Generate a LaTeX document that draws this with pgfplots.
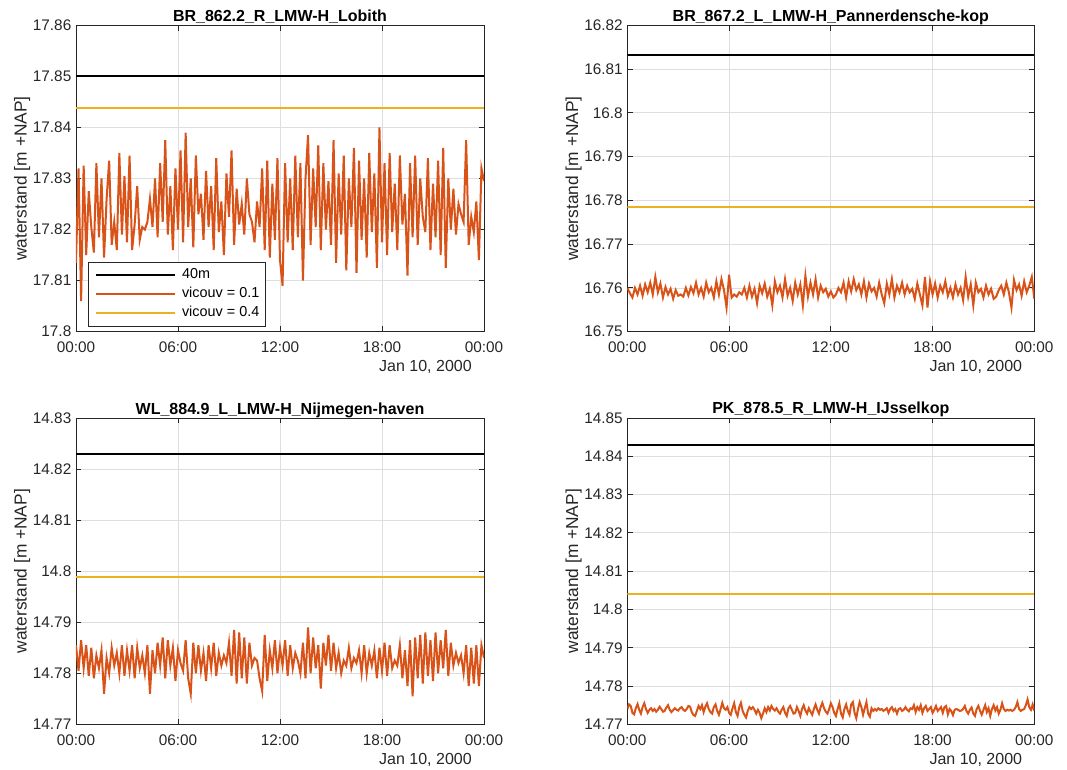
\documentclass[border=0pt]{standalone}
\usepackage{pgfplots}
\pgfplotsset{compat=1.18}
\usepackage{fontspec}
\setmainfont{Liberation Sans}
\definecolor{axgray}{HTML}{262626}
\definecolor{gridgray}{HTML}{DEDEDE}
\definecolor{morange}{HTML}{D95319}
\definecolor{myellow}{HTML}{EDB120}
\pgfplotsset{
  mstyle/.style={
    scale only axis, width=306pt, height=229.75pt,
    xmin=0, xmax=24, xtick={0,6,12,18,24},
    xticklabels={00:00,06:00,12:00,18:00,00:00},
    grid=major, major grid style={color=gridgray, line width=0.6pt},
    axis line style={color=axgray, line width=0.7pt},
    tick style={color=axgray, line width=0.7pt}, major tick length=4pt,
    tick label style={font=\fontsize{11.5}{13}\selectfont, color=axgray},
    x tick label style={yshift=-4pt},
    /pgf/number format/assume math mode=true,
    y tick label style={/pgf/number format/.cd, fixed, precision=2},
    scaled y ticks=false,
    ylabel={waterstand [m +NAP]},
    ylabel style={font=\fontsize{13}{15}\selectfont, color=axgray,
      at={(axis description cs:-0.132,0.5)}, anchor=center},
    every axis title shift=0pt,
    title style={font=\bfseries\fontsize{12}{14}\selectfont,
      at={(axis description cs:0.5,1)}, anchor=base, yshift=3pt},
    anchor=south west,
  },
}
\newcommand{\datelabel}[1]{\node[anchor=base east, font=\fontsize{12}{14}\selectfont, color=axgray, inner sep=0pt] at ([xshift=-9pt, yshift=-30pt]#1.south east) {Jan 10, 2000};}
\begin{document}
\begin{tikzpicture}
\useasboundingbox (0,0) rectangle (800.25pt,576.75pt);
% ---------------- top left
\begin{axis}[mstyle, name=a1, at={(57pt,328pt)},
  ymin=17.8, ymax=17.86, ytick={17.80,17.81,17.82,17.83,17.84,17.85,17.86},
  title={BR\_862.2\_R\_LMW-H\_Lobith},
  legend style={at={(0.03,0.016)}, anchor=south west, draw=axgray, fill=white,
    line width=0.7pt, font=\fontsize{10.8}{13}\selectfont, inner xsep=5pt, inner ysep=2.5pt,
    nodes={inner sep=0pt, text height=9.5pt, text depth=4.75pt},
    /tikz/every odd column/.append style={column sep=4.5pt}},
  legend cell align=left,
  legend image code/.code={\draw[#1] (0pt,0pt) -- (59pt,0pt);},
]
\addplot[color=black, line width=1.5pt] coordinates {(0,17.8500) (24,17.8500)};
\addlegendentry{40m}
\addplot[color=morange, line width=1.5pt] table[row sep=\\, header=false, x expr=\coordindex*0.15, y index=0] {
17.8135\\ 17.8320\\ 17.8060\\ 17.8325\\ 17.8150\\ 17.8275\\ 17.8205\\ 17.8155\\ 17.8330\\ 17.8185\\
17.8300\\ 17.8145\\ 17.8260\\ 17.8335\\ 17.8170\\ 17.8215\\ 17.8160\\ 17.8350\\ 17.8190\\ 17.8305\\
17.8175\\ 17.8345\\ 17.8160\\ 17.8210\\ 17.8285\\ 17.8180\\ 17.8205\\ 17.8200\\ 17.8215\\ 17.8260\\
17.8205\\ 17.8300\\ 17.8185\\ 17.8330\\ 17.8215\\ 17.8375\\ 17.8190\\ 17.8285\\ 17.8160\\ 17.8320\\
17.8200\\ 17.8355\\ 17.8175\\ 17.8390\\ 17.8205\\ 17.8300\\ 17.8165\\ 17.8345\\ 17.8230\\ 17.8270\\
17.8180\\ 17.8315\\ 17.8205\\ 17.8285\\ 17.8160\\ 17.8340\\ 17.8195\\ 17.8255\\ 17.8150\\ 17.8310\\
17.8225\\ 17.8355\\ 17.8170\\ 17.8280\\ 17.8210\\ 17.8250\\ 17.8190\\ 17.8300\\ 17.8230\\ 17.8215\\
17.8175\\ 17.8255\\ 17.8205\\ 17.8320\\ 17.8160\\ 17.8335\\ 17.8145\\ 17.8290\\ 17.8180\\ 17.8340\\
17.8140\\ 17.8090\\ 17.8330\\ 17.8175\\ 17.8300\\ 17.8160\\ 17.8345\\ 17.8185\\ 17.8330\\ 17.8100\\
17.8300\\ 17.8385\\ 17.8170\\ 17.8320\\ 17.8205\\ 17.8365\\ 17.8160\\ 17.8330\\ 17.8200\\ 17.8295\\
17.8170\\ 17.8375\\ 17.8135\\ 17.8310\\ 17.8190\\ 17.8345\\ 17.8120\\ 17.8300\\ 17.8205\\ 17.8360\\
17.8115\\ 17.8335\\ 17.8180\\ 17.8300\\ 17.8145\\ 17.8350\\ 17.8195\\ 17.8310\\ 17.8125\\ 17.8400\\
17.8175\\ 17.8330\\ 17.8150\\ 17.8350\\ 17.8195\\ 17.8290\\ 17.8160\\ 17.8345\\ 17.8210\\ 17.8270\\
17.8110\\ 17.8330\\ 17.8185\\ 17.8345\\ 17.8170\\ 17.8300\\ 17.8225\\ 17.8195\\ 17.8340\\ 17.8160\\
17.8290\\ 17.8185\\ 17.8335\\ 17.8150\\ 17.8360\\ 17.8125\\ 17.8300\\ 17.8200\\ 17.8280\\ 17.8190\\
17.8250\\ 17.8230\\ 17.8215\\ 17.8375\\ 17.8170\\ 17.8225\\ 17.8195\\ 17.8255\\ 17.8140\\ 17.8320\\
17.8295\\
};
\addlegendentry{vicouv = 0.1}
\addplot[color=myellow, line width=1.5pt] coordinates {(0,17.8438) (24,17.8438)};
\addlegendentry{vicouv = 0.4}
\end{axis}
\datelabel{a1}
% ---------------- top right
\begin{axis}[mstyle, name=a2, at={(470.5pt,328pt)}, width=305.25pt,
  ymin=16.75, ymax=16.82, ytick={16.75,16.76,16.77,16.78,16.79,16.80,16.81,16.82},
  title={BR\_867.2\_L\_LMW-H\_Pannerdensche-kop},
]
\addplot[color=black, line width=1.5pt] coordinates {(0,16.8133) (24,16.8133)};
\addplot[color=morange, line width=1.5pt] table[row sep=\\, header=false, x expr=\coordindex*0.15, y index=0] {
16.7600\\ 16.7588\\ 16.7578\\ 16.7600\\ 16.7585\\ 16.7605\\ 16.7582\\ 16.7608\\ 16.7590\\ 16.7612\\
16.7585\\ 16.7625\\ 16.7590\\ 16.7610\\ 16.7578\\ 16.7602\\ 16.7585\\ 16.7598\\ 16.7575\\ 16.7595\\
16.7582\\ 16.7585\\ 16.7580\\ 16.7600\\ 16.7583\\ 16.7602\\ 16.7588\\ 16.7612\\ 16.7585\\ 16.7600\\
16.7580\\ 16.7612\\ 16.7590\\ 16.7600\\ 16.7578\\ 16.7615\\ 16.7585\\ 16.7620\\ 16.7595\\ 16.7555\\
16.7630\\ 16.7578\\ 16.7585\\ 16.7580\\ 16.7590\\ 16.7585\\ 16.7600\\ 16.7578\\ 16.7605\\ 16.7580\\
16.7598\\ 16.7565\\ 16.7605\\ 16.7588\\ 16.7610\\ 16.7580\\ 16.7598\\ 16.7560\\ 16.7615\\ 16.7590\\
16.7605\\ 16.7578\\ 16.7620\\ 16.7582\\ 16.7600\\ 16.7570\\ 16.7612\\ 16.7585\\ 16.7608\\ 16.7560\\
16.7628\\ 16.7580\\ 16.7612\\ 16.7585\\ 16.7620\\ 16.7578\\ 16.7605\\ 16.7590\\ 16.7598\\ 16.7580\\
16.7592\\ 16.7578\\ 16.7585\\ 16.7600\\ 16.7590\\ 16.7612\\ 16.7578\\ 16.7615\\ 16.7592\\ 16.7620\\
16.7595\\ 16.7608\\ 16.7585\\ 16.7615\\ 16.7578\\ 16.7610\\ 16.7592\\ 16.7600\\ 16.7580\\ 16.7612\\
16.7585\\ 16.7565\\ 16.7610\\ 16.7585\\ 16.7620\\ 16.7578\\ 16.7605\\ 16.7590\\ 16.7612\\ 16.7585\\
16.7605\\ 16.7590\\ 16.7598\\ 16.7575\\ 16.7610\\ 16.7585\\ 16.7560\\ 16.7625\\ 16.7555\\ 16.7615\\
16.7585\\ 16.7610\\ 16.7578\\ 16.7605\\ 16.7590\\ 16.7615\\ 16.7582\\ 16.7600\\ 16.7578\\ 16.7608\\
16.7585\\ 16.7600\\ 16.7572\\ 16.7625\\ 16.7580\\ 16.7608\\ 16.7560\\ 16.7612\\ 16.7590\\ 16.7598\\
16.7578\\ 16.7605\\ 16.7585\\ 16.7598\\ 16.7575\\ 16.7580\\ 16.7595\\ 16.7605\\ 16.7585\\ 16.7612\\
16.7590\\ 16.7555\\ 16.7618\\ 16.7595\\ 16.7608\\ 16.7582\\ 16.7615\\ 16.7590\\ 16.7605\\ 16.7625\\
16.7575\\
};
\addplot[color=myellow, line width=1.5pt] coordinates {(0,16.7785) (24,16.7785)};
\end{axis}
\datelabel{a2}
% ---------------- bottom left
\begin{axis}[mstyle, name=a3, at={(57pt,33.5pt)},
  ymin=14.77, ymax=14.83, ytick={14.77,14.78,14.79,14.80,14.81,14.82,14.83},
  title={WL\_884.9\_L\_LMW-H\_Nijmegen-haven},
]
\addplot[color=black, line width=1.5pt] coordinates {(0,14.8230) (24,14.8230)};
\addplot[color=morange, line width=1.5pt] table[row sep=\\, header=false, x expr=\coordindex*0.15, y index=0] {
14.7855\\ 14.7805\\ 14.7865\\ 14.7810\\ 14.7855\\ 14.7795\\ 14.7850\\ 14.7790\\ 14.7835\\ 14.7810\\
14.7845\\ 14.7760\\ 14.7830\\ 14.7800\\ 14.7850\\ 14.7815\\ 14.7840\\ 14.7800\\ 14.7855\\ 14.7795\\
14.7845\\ 14.7805\\ 14.7855\\ 14.7790\\ 14.7850\\ 14.7810\\ 14.7835\\ 14.7800\\ 14.7855\\ 14.7760\\
14.7845\\ 14.7800\\ 14.7860\\ 14.7815\\ 14.7870\\ 14.7790\\ 14.7865\\ 14.7815\\ 14.7850\\ 14.7785\\
14.7845\\ 14.7820\\ 14.7805\\ 14.7865\\ 14.7790\\ 14.7760\\ 14.7860\\ 14.7800\\ 14.7855\\ 14.7805\\
14.7840\\ 14.7785\\ 14.7855\\ 14.7810\\ 14.7860\\ 14.7795\\ 14.7840\\ 14.7815\\ 14.7835\\ 14.7820\\
14.7860\\ 14.7795\\ 14.7885\\ 14.7780\\ 14.7880\\ 14.7790\\ 14.7870\\ 14.7780\\ 14.7860\\ 14.7815\\
14.7830\\ 14.7825\\ 14.7790\\ 14.7765\\ 14.7875\\ 14.7785\\ 14.7845\\ 14.7810\\ 14.7865\\ 14.7800\\
14.7850\\ 14.7815\\ 14.7865\\ 14.7795\\ 14.7855\\ 14.7810\\ 14.7840\\ 14.7825\\ 14.7800\\ 14.7860\\
14.7790\\ 14.7890\\ 14.7800\\ 14.7870\\ 14.7810\\ 14.7855\\ 14.7770\\ 14.7860\\ 14.7815\\ 14.7875\\
14.7805\\ 14.7860\\ 14.7810\\ 14.7840\\ 14.7800\\ 14.7825\\ 14.7815\\ 14.7850\\ 14.7810\\ 14.7830\\
14.7820\\ 14.7845\\ 14.7800\\ 14.7855\\ 14.7800\\ 14.7840\\ 14.7815\\ 14.7845\\ 14.7790\\ 14.7850\\
14.7805\\ 14.7860\\ 14.7795\\ 14.7855\\ 14.7810\\ 14.7825\\ 14.7815\\ 14.7855\\ 14.7790\\ 14.7845\\
14.7775\\ 14.7865\\ 14.7755\\ 14.7870\\ 14.7790\\ 14.7875\\ 14.7780\\ 14.7880\\ 14.7795\\ 14.7865\\
14.7785\\ 14.7880\\ 14.7800\\ 14.7865\\ 14.7810\\ 14.7885\\ 14.7795\\ 14.7860\\ 14.7815\\ 14.7840\\
14.7820\\ 14.7835\\ 14.7800\\ 14.7855\\ 14.7775\\ 14.7850\\ 14.7780\\ 14.7855\\ 14.7775\\ 14.7855\\
14.7830\\
};
\addplot[color=myellow, line width=1.5pt] coordinates {(0,14.7988) (24,14.7988)};
\end{axis}
\datelabel{a3}
% ---------------- bottom right
\begin{axis}[mstyle, name=a4, at={(470.5pt,33.5pt)}, width=305.25pt,
  ymin=14.77, ymax=14.85, ytick={14.77,14.78,14.79,14.80,14.81,14.82,14.83,14.84,14.85},
  title={PK\_878.5\_R\_LMW-H\_IJsselkop},
]
\addplot[color=black, line width=1.5pt] coordinates {(0,14.8430) (24,14.8430)};
\addplot[color=morange, line width=1.5pt] table[row sep=\\, header=false, x expr=\coordindex/10, y index=0] {
14.7740\\ 14.7752\\ 14.7748\\ 14.7730\\ 14.7726\\ 14.7742\\ 14.7753\\ 14.7738\\ 14.7728\\ 14.7745\\
14.7755\\ 14.7740\\ 14.7730\\ 14.7738\\ 14.7742\\ 14.7735\\ 14.7740\\ 14.7733\\ 14.7738\\ 14.7746\\
14.7740\\ 14.7733\\ 14.7735\\ 14.7744\\ 14.7750\\ 14.7738\\ 14.7732\\ 14.7737\\ 14.7742\\ 14.7738\\
14.7736\\ 14.7742\\ 14.7745\\ 14.7738\\ 14.7735\\ 14.7740\\ 14.7748\\ 14.7746\\ 14.7732\\ 14.7724\\
14.7722\\ 14.7735\\ 14.7748\\ 14.7740\\ 14.7750\\ 14.7732\\ 14.7746\\ 14.7755\\ 14.7740\\ 14.7732\\
14.7728\\ 14.7745\\ 14.7752\\ 14.7735\\ 14.7725\\ 14.7740\\ 14.7756\\ 14.7742\\ 14.7738\\ 14.7745\\
14.7730\\ 14.7725\\ 14.7742\\ 14.7755\\ 14.7732\\ 14.7722\\ 14.7745\\ 14.7756\\ 14.7735\\ 14.7725\\
14.7718\\ 14.7735\\ 14.7745\\ 14.7740\\ 14.7745\\ 14.7738\\ 14.7728\\ 14.7738\\ 14.7730\\ 14.7716\\
14.7728\\ 14.7742\\ 14.7732\\ 14.7745\\ 14.7736\\ 14.7748\\ 14.7740\\ 14.7736\\ 14.7742\\ 14.7733\\
14.7728\\ 14.7738\\ 14.7745\\ 14.7730\\ 14.7722\\ 14.7742\\ 14.7748\\ 14.7738\\ 14.7728\\ 14.7730\\
14.7745\\ 14.7735\\ 14.7722\\ 14.7740\\ 14.7750\\ 14.7736\\ 14.7728\\ 14.7742\\ 14.7733\\ 14.7725\\
14.7740\\ 14.7752\\ 14.7738\\ 14.7728\\ 14.7745\\ 14.7756\\ 14.7742\\ 14.7733\\ 14.7728\\ 14.7740\\
14.7755\\ 14.7745\\ 14.7730\\ 14.7722\\ 14.7740\\ 14.7755\\ 14.7728\\ 14.7718\\ 14.7740\\ 14.7752\\
14.7735\\ 14.7725\\ 14.7752\\ 14.7758\\ 14.7730\\ 14.7716\\ 14.7740\\ 14.7758\\ 14.7745\\ 14.7725\\
14.7742\\ 14.7758\\ 14.7728\\ 14.7720\\ 14.7742\\ 14.7735\\ 14.7740\\ 14.7736\\ 14.7742\\ 14.7738\\
14.7740\\ 14.7735\\ 14.7738\\ 14.7742\\ 14.7730\\ 14.7740\\ 14.7745\\ 14.7735\\ 14.7740\\ 14.7728\\
14.7740\\ 14.7742\\ 14.7735\\ 14.7738\\ 14.7745\\ 14.7738\\ 14.7734\\ 14.7742\\ 14.7740\\ 14.7750\\
14.7732\\ 14.7745\\ 14.7738\\ 14.7750\\ 14.7730\\ 14.7742\\ 14.7748\\ 14.7735\\ 14.7740\\ 14.7745\\
14.7730\\ 14.7738\\ 14.7748\\ 14.7735\\ 14.7740\\ 14.7745\\ 14.7730\\ 14.7745\\ 14.7748\\ 14.7726\\
14.7740\\ 14.7735\\ 14.7724\\ 14.7738\\ 14.7740\\ 14.7738\\ 14.7735\\ 14.7736\\ 14.7740\\ 14.7748\\
14.7735\\ 14.7728\\ 14.7738\\ 14.7744\\ 14.7728\\ 14.7722\\ 14.7740\\ 14.7748\\ 14.7735\\ 14.7725\\
14.7738\\ 14.7750\\ 14.7732\\ 14.7742\\ 14.7722\\ 14.7740\\ 14.7750\\ 14.7736\\ 14.7745\\ 14.7728\\
14.7738\\ 14.7755\\ 14.7740\\ 14.7735\\ 14.7738\\ 14.7736\\ 14.7738\\ 14.7735\\ 14.7738\\ 14.7745\\
14.7758\\ 14.7740\\ 14.7735\\ 14.7738\\ 14.7740\\ 14.7750\\ 14.7765\\ 14.7745\\ 14.7738\\ 14.7752\\
14.7735\\
};
\addplot[color=myellow, line width=1.5pt] coordinates {(0,14.8041) (24,14.8041)};
\end{axis}
\datelabel{a4}
\end{tikzpicture}
\end{document}
